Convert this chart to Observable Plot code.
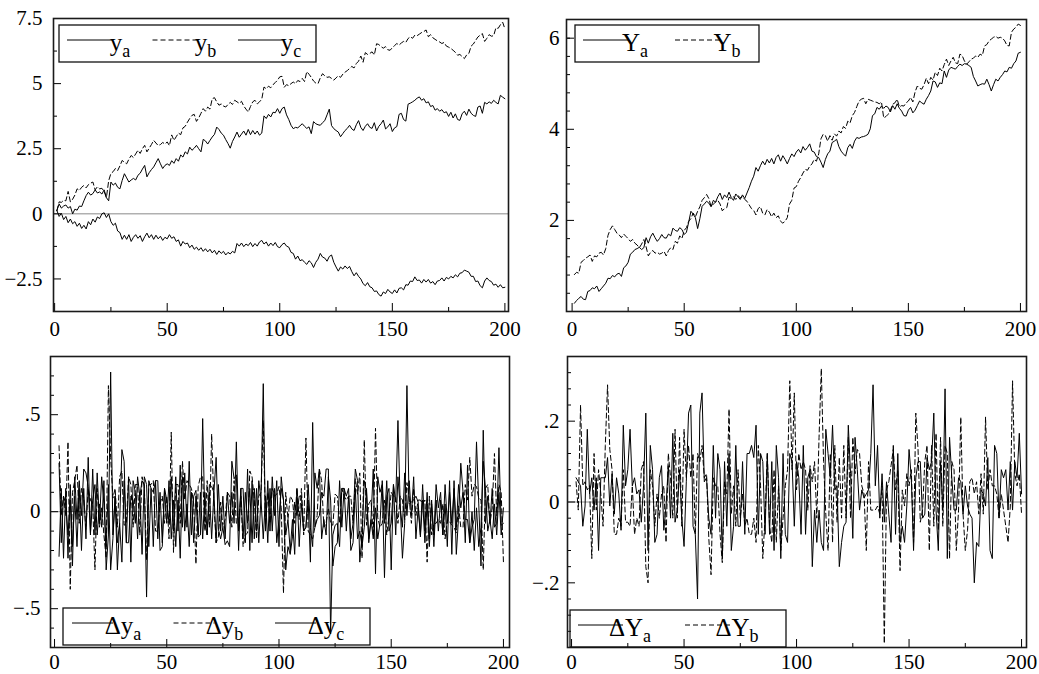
<!DOCTYPE html>
<html><head><meta charset="utf-8">
<script src="https://cdn.jsdelivr.net/npm/d3@7"></script>
<script src="https://cdn.jsdelivr.net/npm/@observablehq/plot@0.6"></script>
<style>
body{margin:0;background:#fff;}
#wrap{position:relative;width:1039px;height:674px;background:#fff;overflow:hidden;}
.panel{position:absolute;}
</style></head><body><div id="wrap"></div>
<script>
// ---- level series, t = 1..200 ----
const ya = [0.13,0.38,0.22,0.30,0.34,0.22,0.28,0.00,0.18,0.14,
0.30,0.28,0.50,0.70,0.83,0.72,0.78,0.92,0.80,0.84,
0.76,0.92,0.62,0.50,1.22,1.10,1.18,1.02,0.96,1.28,
1.54,1.38,1.22,1.30,1.36,1.30,1.48,1.56,1.72,1.86,
1.42,1.58,1.70,1.80,1.96,2.12,1.92,1.74,1.86,1.92,
1.86,2.04,1.94,2.12,2.02,2.26,2.18,2.38,2.30,2.56,
2.44,2.52,2.63,2.50,2.38,2.86,2.80,2.68,2.82,2.95,
3.05,3.33,3.24,3.10,3.02,2.85,2.70,2.52,2.78,2.95,
3.14,2.94,3.06,3.18,3.02,3.24,3.04,3.20,3.06,3.18,
3.02,3.10,3.76,3.66,3.82,3.72,3.90,3.88,4.04,3.86,
4.04,4.10,3.80,3.62,3.40,3.27,3.32,3.30,3.38,3.46,
3.36,3.28,3.34,3.08,3.54,3.46,3.42,3.40,3.50,3.58,
3.80,4.02,3.39,3.27,3.20,3.14,2.96,3.08,3.20,3.28,
3.40,3.26,3.20,3.42,3.58,3.32,3.20,3.36,3.46,3.32,
3.28,3.50,3.18,3.36,3.46,3.60,3.26,3.34,3.46,3.16,
3.30,3.35,3.82,3.86,3.62,3.56,4.21,4.25,4.30,4.36,
4.44,4.49,4.36,4.42,4.26,4.30,4.12,4.16,3.98,4.04,
3.94,4.00,3.88,3.92,3.74,3.90,3.68,3.84,3.62,3.59,
3.84,3.94,3.78,4.02,3.86,3.78,3.74,4.10,4.14,3.86,
4.28,4.22,4.30,4.24,4.36,4.28,4.22,4.55,4.48,4.42];

const yb = [0.12,0.46,0.44,0.52,0.50,0.86,0.46,0.56,0.72,0.96,
0.90,1.02,1.09,1.00,1.12,1.18,1.22,0.92,1.04,0.96,
0.98,0.86,0.62,1.27,1.55,1.62,1.74,1.66,1.84,2.05,
1.98,1.92,2.10,2.24,2.16,2.30,2.44,2.32,2.50,2.63,
2.38,2.52,2.66,2.82,2.72,2.62,2.66,2.74,2.68,2.76,
2.62,3.03,2.82,2.96,3.10,3.04,3.30,3.36,3.52,3.66,
3.78,3.82,3.55,3.68,3.86,4.04,3.94,4.10,4.02,4.42,
4.46,4.30,4.17,4.22,4.14,4.10,4.20,4.28,4.20,4.36,
4.30,4.24,4.32,4.14,4.02,3.91,4.12,4.30,4.36,4.22,
4.30,4.40,4.87,4.80,4.90,4.84,4.96,5.04,5.13,5.26,
5.28,4.86,4.96,4.92,5.00,5.06,5.00,5.12,5.08,5.20,
5.08,5.46,5.36,5.24,5.10,5.02,5.00,5.22,5.38,5.30,
5.24,5.26,5.20,5.13,5.22,5.30,5.24,5.36,5.44,5.50,
5.58,5.66,5.60,5.77,5.86,6.06,5.82,6.19,6.12,6.16,
6.22,6.10,6.53,6.50,6.42,6.36,6.42,6.30,6.28,6.38,
6.46,6.54,6.48,6.56,6.62,6.58,6.73,6.80,6.74,6.86,
6.84,6.90,6.96,7.00,7.06,6.80,6.88,6.76,6.70,6.64,
6.60,6.54,6.58,6.44,6.40,6.35,6.28,6.20,6.09,6.12,
6.04,5.96,6.10,6.16,6.44,6.52,6.66,6.79,6.86,6.92,
6.62,6.74,6.88,6.82,6.84,7.14,7.12,7.26,7.36,7.10];

const yc = [0.13,-0.10,0.02,-0.22,-0.10,-0.34,-0.20,-0.38,-0.30,-0.48,
-0.36,-0.56,-0.44,-0.58,-0.30,-0.42,-0.20,-0.32,-0.12,-0.18,
0.00,0.04,-0.14,0.00,-0.30,-0.44,-0.36,-0.66,-0.72,-0.98,
-0.82,-0.98,-0.80,-1.06,-0.90,-0.80,-0.94,-0.84,-1.06,-0.88,
-0.74,-0.92,-0.80,-0.98,-0.82,-0.96,-0.86,-1.02,-0.90,-0.96,
-0.80,-0.94,-0.88,-1.06,-1.00,-1.24,-1.06,-1.16,-1.12,-1.30,
-1.20,-1.36,-1.28,-1.40,-1.30,-1.44,-1.34,-1.46,-1.36,-1.50,
-1.40,-1.56,-1.42,-1.52,-1.44,-1.58,-1.48,-1.54,-1.44,-1.50,
-1.14,-1.24,-1.12,-1.26,-1.16,-1.22,-1.10,-1.26,-1.14,-1.24,
-1.08,-1.02,-1.16,-1.08,-1.24,-1.12,-1.22,-1.10,-1.26,-1.30,
-1.18,-1.12,-1.24,-1.28,-1.48,-1.52,-1.74,-1.62,-1.80,-1.76,
-1.86,-1.94,-1.80,-1.88,-2.06,-1.86,-1.74,-1.52,-1.66,-1.70,
-1.82,-1.64,-1.58,-1.86,-2.04,-2.20,-2.04,-2.12,-2.00,-2.10,
-2.02,-2.22,-2.38,-2.26,-2.40,-2.50,-2.68,-2.76,-2.64,-2.80,
-2.84,-2.98,-2.96,-3.10,-3.16,-3.00,-3.06,-2.90,-3.00,-3.06,
-2.92,-3.04,-2.86,-2.84,-2.92,-2.72,-2.74,-2.58,-2.60,-2.42,
-2.56,-2.54,-2.66,-2.52,-2.62,-2.52,-2.66,-2.60,-2.72,-2.58,
-2.56,-2.46,-2.58,-2.44,-2.50,-2.40,-2.46,-2.34,-2.42,-2.28,
-2.26,-2.16,-2.20,-2.24,-2.40,-2.40,-2.60,-2.58,-2.76,-2.84,
-2.58,-2.46,-2.56,-2.60,-2.74,-2.70,-2.82,-2.72,-2.84,-2.82];

const Ya = [0.18,0.24,0.29,0.33,0.27,0.26,0.44,0.46,0.52,0.50,
0.56,0.44,0.50,0.56,0.62,0.73,0.72,0.79,0.76,0.82,
0.84,0.77,0.96,1.00,1.08,1.26,1.30,1.36,1.38,1.41,
1.36,1.40,1.62,1.50,1.64,1.72,1.62,1.54,1.60,1.69,
1.62,1.61,1.70,1.66,1.83,1.78,1.76,1.84,1.80,1.69,
1.74,1.96,2.20,2.14,2.06,1.82,2.04,2.31,2.36,2.42,
2.38,2.30,2.44,2.40,2.52,2.60,2.46,2.56,2.50,2.62,
2.50,2.44,2.58,2.52,2.46,2.56,2.48,2.60,2.72,2.86,
2.97,3.16,3.08,3.20,3.30,3.22,3.34,3.26,3.36,3.24,
3.38,3.44,3.30,3.42,3.34,3.24,3.36,3.46,3.40,3.50,
3.56,3.48,3.62,3.54,3.60,3.68,3.52,3.50,3.40,3.38,
3.28,3.16,3.34,3.46,3.52,3.71,3.74,3.78,3.62,3.52,
3.46,3.41,3.60,3.67,3.58,3.74,3.82,3.80,3.83,3.84,
3.86,3.89,4.01,4.30,4.34,4.48,4.44,4.51,4.46,4.51,
4.48,4.38,4.52,4.44,4.56,4.46,4.40,4.30,4.29,4.42,
4.48,4.36,4.42,4.52,4.62,4.58,4.55,4.66,4.74,4.84,
5.06,5.04,4.92,5.02,5.00,5.28,5.14,5.30,5.36,5.34,
5.32,5.38,5.43,5.40,5.44,5.43,5.40,5.36,5.16,5.06,
4.95,4.98,5.00,4.99,5.10,4.98,4.84,4.98,5.10,5.06,
5.14,5.20,5.28,5.26,5.36,5.34,5.44,5.50,5.67,5.69];

const Yb = [0.81,0.86,0.84,1.08,1.12,1.17,1.20,1.24,1.10,1.22,
1.20,1.28,1.30,1.24,1.38,1.67,1.80,1.88,1.80,1.72,
1.68,1.62,1.70,1.65,1.60,1.54,1.58,1.50,1.46,1.40,
1.48,1.58,1.42,1.22,1.30,1.34,1.28,1.30,1.26,1.28,
1.32,1.22,1.34,1.40,1.36,1.54,1.50,1.66,1.60,1.78,
1.84,1.98,2.04,2.16,2.08,2.20,2.30,2.44,2.50,2.57,
2.48,2.30,2.36,2.40,2.44,2.36,2.21,2.26,2.28,2.51,
2.48,2.52,2.46,2.54,2.50,2.52,2.46,2.42,2.34,2.26,
2.22,2.12,2.26,2.30,2.16,2.12,2.24,2.18,2.08,2.16,
2.06,2.10,1.98,1.94,1.98,2.06,2.36,2.44,2.71,2.74,
2.86,2.94,3.04,3.12,3.10,3.19,3.24,3.34,3.30,3.46,
3.79,3.89,3.86,3.74,3.86,3.76,3.90,3.85,3.96,3.92,
4.06,4.02,4.18,4.14,4.30,4.37,4.50,4.62,4.66,4.68,
4.56,4.66,4.64,4.62,4.60,4.59,4.56,4.60,4.25,4.28,
4.33,4.42,4.55,4.58,4.66,4.49,4.52,4.51,4.58,4.62,
4.70,4.60,4.82,4.95,4.90,4.88,4.98,5.12,5.00,5.14,
5.08,5.25,5.18,5.34,5.28,5.42,5.54,5.40,5.50,5.58,
5.46,5.44,5.65,5.62,5.50,5.43,5.48,5.54,5.56,5.61,
5.58,5.65,5.62,5.83,5.86,5.94,5.98,6.02,6.04,6.00,
6.02,6.00,5.94,5.84,5.83,6.13,6.20,6.24,6.31,6.28];

// ---- ticks ----
const xMajor = [0, 50, 100, 150, 200];
const xMinor = [25, 75, 125, 175];
const xLabels = ["0", "50", "100", "150", "200"];

const tlMajor = [-2.5, 0, 2.5, 5, 7.5];
const tlLabels = ["\u22122.5", "0", "2.5", "5", "7.5"];
const tlMinor = [-1.25, 1.25, 3.75, 6.25];

const trMajor = [2, 4, 6];
const trLabels = ["2", "4", "6"];
const trMinor = [0.4, 0.8, 1.2, 1.6, 2.4, 2.8, 3.2, 3.6, 4.4, 4.8, 5.2, 5.6, 6.0];

const blMajor = [-0.5, 0, 0.5];
const blLabels = ["\u2212.5", "0", ".5"];
const blMinor = [-0.6, -0.4, -0.3, -0.2, -0.1, 0.1, 0.2, 0.3, 0.4, 0.6, 0.7];

const brMajor = [-0.2, 0, 0.2];
const brLabels = ["\u2212.2", "0", ".2"];
const brMinor = [-0.32, -0.28, -0.24, -0.16, -0.12, -0.08, -0.04, 0.04, 0.08, 0.12, 0.16, 0.24, 0.28, 0.32];

// ---- legends ----
const legTL = [["y", "a", false], ["y", "b", true], ["y", "c", false]];
const legTR = [["Y", "a", false], ["Y", "b", true]];
const legBL = [["\u0394y", "a", false], ["\u0394y", "b", true], ["\u0394y", "c", false]];
const legBR = [["\u0394Y", "a", false], ["\u0394Y", "b", true]];

// ---- helpers ----
const FONT = "'Liberation Serif', 'Times New Roman', serif";
const DASH = "5,3";
const rows = (arr, start) => arr.map((v, i) => ({t: i + start, v}));
const diff = arr => arr.slice(1).map((v, i) => Math.round((v - arr[i]) * 100) / 100);

function panel(c) {
  const innerW = c.width - c.mL - c.mR, innerH = c.height - c.mT - c.mB;
  const kx = (c.xDom[1] - c.xDom[0]) / innerW, ky = (c.yDom[1] - c.yDom[0]) / innerH;
  const x0 = c.xDom[0], y0 = c.yDom[0];
  const marks = [
    Plot.ruleY([0], {stroke: "#8a8a8a", strokeWidth: 1}),
    ...c.series.map(s => Plot.line(s.data, {x: "t", y: "v", stroke: "#000", strokeWidth: 1,
      ...(s.dash ? {strokeDasharray: DASH} : {})})),
    Plot.ruleX(xMajor, {x: d => d, y1: y0, y2: y0 + 8 * ky, stroke: "#000", strokeWidth: 1}),
    Plot.ruleX(xMinor, {x: d => d, y1: y0, y2: y0 + 4 * ky, stroke: "#000", strokeWidth: 1}),
    Plot.ruleY(c.yMajor, {y: d => d, x1: x0, x2: x0 + 8 * kx, stroke: "#000", strokeWidth: 1}),
    Plot.ruleY(c.yMinor, {y: d => d, x1: x0, x2: x0 + 4 * kx, stroke: "#000", strokeWidth: 1}),
    Plot.frame({stroke: "#1a1a1a", strokeWidth: 1.6}),
    Plot.axisX(xMajor, {tickSize: 0, tickPadding: c.xPad, label: null,
      tickFormat: d => xLabels[xMajor.indexOf(d)]}),
    Plot.axisY(c.yMajor, {tickSize: 0, tickPadding: c.yPad, label: null,
      tickFormat: d => c.yLabels[c.yMajor.indexOf(d)]})
  ];
  const el = Plot.plot({
    width: c.width, height: c.height,
    marginLeft: c.mL, marginRight: c.mR, marginTop: c.mT, marginBottom: c.mB,
    x: {domain: c.xDom}, y: {domain: c.yDom},
    style: {fontSize: "21px", color: "#000", background: "transparent", overflow: "visible"},
    marks
  });
  // legend
  const L = c.legend;
  const g = d3.select(el).append("g");
  g.append("rect").attr("x", L.x).attr("y", L.y).attr("width", L.w).attr("height", 37)
    .attr("fill", "none").attr("stroke", "#111").attr("stroke-width", 1.3);
  L.items.forEach((it, i) => {
    const lx = L.x0 + i * L.step;
    const ln = g.append("line").attr("x1", lx).attr("x2", lx + L.len)
      .attr("y1", L.y + 15).attr("y2", L.y + 15).attr("stroke", "#000").attr("stroke-width", 1);
    if (it[2]) ln.attr("stroke-dasharray", DASH);
    const tx = g.append("text").attr("x", lx + L.len + L.gap).attr("y", L.y + 26)
      .style("font-size", "25px").attr("fill", "#000");
    tx.append("tspan").text(it[0]);
    tx.append("tspan").style("font-size", "18px").attr("dy", 6).text(it[1]);
  });
  // force serif face on every text of the panel
  d3.select(el).style("font-family", FONT);
  d3.select(el).selectAll("text").style("font-family", FONT);
  const div = document.createElement("div");
  div.className = "panel";
  div.style.left = c.left + "px";
  div.style.top = c.top + "px";
  div.appendChild(el);
  document.getElementById("wrap").appendChild(div);
}

panel({
  left: 0, top: 0, width: 520, height: 337, mL: 53, mR: 12, mT: 18, mB: 26,
  xDom: [-0.5, 201.6], yDom: [-3.75, 7.5],
  series: [{data: rows(ya, 1)}, {data: rows(yb, 1), dash: true}, {data: rows(yc, 1)}],
  yMajor: tlMajor, yLabels: tlLabels, yMinor: tlMinor, yPad: 11, xPad: 10,
  legend: {x: 59, y: 25, w: 257, x0: 67, step: 85.5, len: 45, gap: 8, items: legTL}
});
panel({
  left: 520, top: 0, width: 519, height: 337, mL: 46, mR: 13, mT: 19, mB: 26,
  xDom: [-2.5, 202.7], yDom: [0, 6.41],
  series: [{data: rows(Ya, 1)}, {data: rows(Yb, 1), dash: true}],
  yMajor: trMajor, yLabels: trLabels, yMinor: trMinor, yPad: 7, xPad: 10,
  legend: {x: 55, y: 25, w: 184, x0: 63, step: 92, len: 45, gap: 7, items: legTR}
});
panel({
  left: 0, top: 337, width: 520, height: 337, mL: 50, mR: 11, mT: 19, mB: 27,
  xDom: [-1.8, 202.7], yDom: [-0.7, 0.8],
  series: [{data: rows(diff(ya), 2)}, {data: rows(diff(yb), 2), dash: true}, {data: rows(diff(yc), 2)}],
  yMajor: blMajor, yLabels: blLabels, yMinor: blMinor, yPad: 10, xPad: 7,
  legend: {x: 63, y: 271, w: 307, x0: 72, step: 101.5, len: 41, gap: 10, items: legBL}
});
panel({
  left: 520, top: 337, width: 519, height: 337, mL: 47, mR: 13, mT: 19, mB: 27,
  xDom: [-1.8, 202.2], yDom: [-0.36, 0.36],
  series: [{data: rows(diff(Ya), 2)}, {data: rows(diff(Yb), 2), dash: true}],
  yMajor: brMajor, yLabels: brLabels, yMinor: brMinor, yPad: 8, xPad: 7,
  legend: {x: 50, y: 273, w: 216, x0: 58, step: 107, len: 45, gap: 7, items: legBR}
});
</script></body></html>
